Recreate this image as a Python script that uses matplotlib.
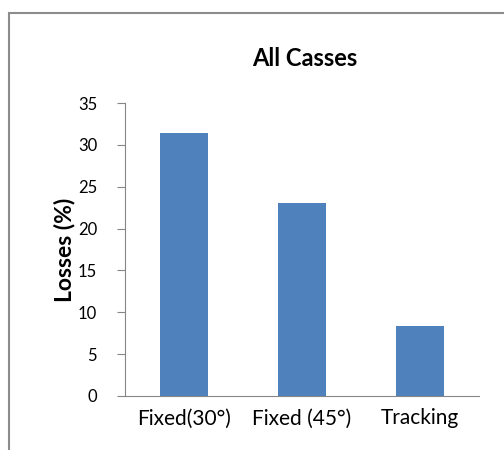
import matplotlib.pyplot as plt
from matplotlib.patches import Rectangle

# Data
categories = ['Fixed(30°)', 'Fixed (45°)', 'Tracking']
losses = [31.4, 23.1, 8.4]
yticks = [0, 5, 10, 15, 20, 25, 30, 35]

plt.rcParams['font.family'] = ['Lato', 'DejaVu Sans']

fig = plt.figure(figsize=(5.04, 4.5), dpi=100)

# outer chart frame (clipped at right / bottom like the screenshot)
fig.patches.append(Rectangle((9/504, -0.05), 1.2, 1 - 13/450 + 0.05,
                             transform=fig.transFigure, fill=False,
                             edgecolor='#8c8c8c', linewidth=1.5))

ax = fig.add_axes([125/504, 54/450, 354/504, 293/450])
x = range(len(categories))
ax.bar(x, losses, width=0.4, color='#4F81BD')

ax.set_xlim(-0.5, len(categories) - 0.5)
ax.set_ylim(0, 35)
ax.set_yticks(yticks)
ax.set_xticks(list(x))
ax.set_xticklabels(categories, fontsize=15)
ax.tick_params(axis='x', length=0, pad=9)
ax.tick_params(axis='y', length=6, color='#868686', labelsize=12, pad=14)

for side in ['top', 'right']:
    ax.spines[side].set_visible(False)
for side in ['left', 'bottom']:
    ax.spines[side].set_color('#868686')

ax.set_ylabel('Losses (%)', fontsize=16.5, fontweight='bold', labelpad=2)
fig.text(305/504, 1 - 58/450, 'All Casses', fontsize=17, fontweight='bold',
         ha='center', va='center')

fig.savefig('out.png', dpi=100)
